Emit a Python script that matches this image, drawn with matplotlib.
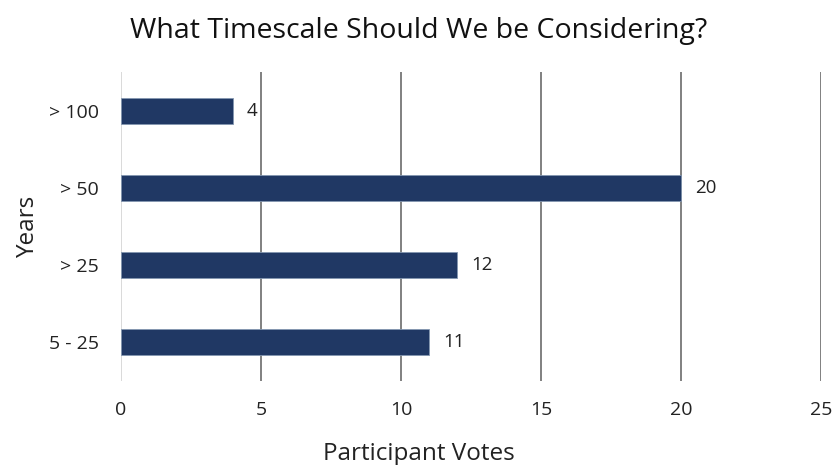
import matplotlib.pyplot as plt

plt.rcParams['font.family'] = ['Open Sans', 'DejaVu Sans']

categories = ['5 - 25', '> 25', '> 50', '> 100']
votes = [11, 12, 20, 4]
x_ticks = [0, 5, 10, 15, 20, 25]

fig = plt.figure(figsize=(8.37, 4.65), dpi=100)
ax = fig.add_axes([0.1446, 0.1817, 0.8364, 0.6624])

ypos = range(len(categories))
bars = ax.barh(ypos, votes, height=0.35, color='#203864', edgecolor='#8497b0',
               linewidth=0.6, zorder=3)

for b, v in zip(bars, votes):
    ax.text(b.get_width() + 0.5, b.get_y() + b.get_height() / 2, str(v),
            va='center', ha='left', fontsize=13.5, color='#222222')

ax.set_xlim(0, 25)
ax.set_ylim(-0.5, len(categories) - 0.5)
ax.set_xticks(x_ticks)
ax.set_yticks(list(ypos))
ax.set_yticklabels(categories)

# vertical gridlines: the zero line is lighter
for t in x_ticks:
    ax.axvline(t, color='#d9d9d9' if t == 0 else '#808080', linewidth=1.4, zorder=1)

for s in ax.spines.values():
    s.set_visible(False)
ax.tick_params(axis='both', length=0, labelsize=14, colors='#222222')
ax.tick_params(axis='x', pad=15)
ax.tick_params(axis='y', pad=16)

# x label sits under the middle of the whole figure, not the axes
ax.set_xlabel('Participant Votes', fontsize=17.5, color='#222222')
ax.xaxis.set_label_coords(0.425, -0.2)
ax.set_ylabel('Years', fontsize=17.5, color='#222222', labelpad=6)
fig.suptitle('What Timescale Should We be Considering?', fontsize=20.5,
             color='#111111', y=0.963)

fig.savefig('out.png', dpi=100)
